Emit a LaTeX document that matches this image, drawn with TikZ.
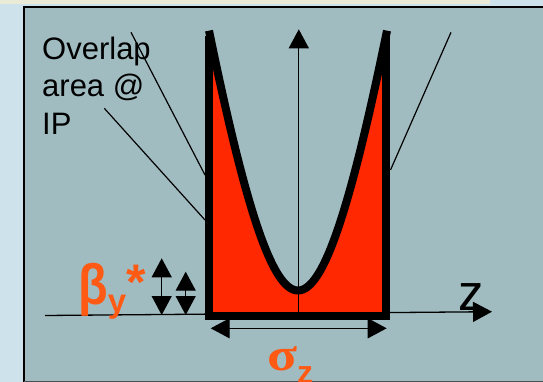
\documentclass[tikz,border=0pt]{standalone}
\usepackage{fontspec}
\setmainfont{Liberation Sans}
\newfontfamily\serifgreek{Liberation Serif}
\usetikzlibrary{arrows.meta}
\definecolor{outerbg}{RGB}{205,226,234}
\definecolor{stripcol}{RGB}{233,235,214}
\definecolor{panelcol}{RGB}{160,188,193}
\definecolor{hotred}{RGB}{255,40,0}
\definecolor{lblcol}{RGB}{255,90,20}
\definecolor{bordergray}{RGB}{70,80,85}
\tikzset{
  thinline/.style={line width=1.3pt},
  leader/.style={line width=1.2pt},
  heavy/.style={line width=8pt},
  txt/.style={inner sep=0pt, anchor=base west, font=\fontsize{31}{37}\selectfont},
  lbl/.style={inner sep=0pt, anchor=base west, text=lblcol}
}
\begin{document}
\begin{tikzpicture}[x=1pt,y=-1pt, >={Triangle[length=19pt,width=20pt]}]
\useasboundingbox (0,0) rectangle (543,382);
\clip (0,0) rectangle (543,382);
% backgrounds
\fill[outerbg] (0,0) rectangle (543,382);
\fill[stripcol] (0,0) rectangle (490,4);
\fill[panelcol] (24,7.5) rectangle (546,384);
\draw[line width=2pt] (24,384) -- (24,7.5) -- (546,7.5);
\draw[bordergray, line width=2pt] (24,381.5) -- (546,381.5);

% coordinates
\coordinate (zL) at (45,315.5);
\coordinate (zR) at (492,311.7);
\coordinate (O) at (298.8,315.7);
\coordinate (ytip) at (298.8,29.3);
\coordinate (BL) at (208.8,315.7);
\coordinate (BR) at (386.3,315.7);
\coordinate (TL) at (208.8,36);
\coordinate (TR) at (386.3,36);

% z axis (behind the box)
\draw[->, thinline] (zL) -- (zR);

% red overlap area
\fill[hotred] (BL) -- plot[domain=-89:89, samples=80] ({298+\x},{290.5-6.55*(sqrt(6400+\x*\x)-80)}) -- (BR) -- cycle;

% vertical axis
\draw[->, thinline] (O) -- (ytip);

% leader lines
\coordinate (l1a) at (131,32.3);
\coordinate (l1b) at (205,175);
\coordinate (l2a) at (104.3,108.3);
\coordinate (l2b) at (205,220);
\coordinate (l3a) at (451,32.3);
\coordinate (l3b) at (390.5,170);
\draw[leader] (l1a) -- (l1b);
\draw[leader] (l2a) -- (l2b);
\draw[leader] (l3a) -- (l3b);

% beta curve
\draw[heavy] plot[domain=-89:89, samples=80] ({298+\x},{290.5-6.55*(sqrt(6400+\x*\x)-80)});

% box
\draw[heavy, line join=miter] (TL) -- (BL) -- (BR) -- (TR);

% beta* arrows
\coordinate (b1t) at (161.7,258.3);
\coordinate (b1b) at (161.7,315);
\coordinate (b2t) at (185.7,271.7);
\coordinate (b2b) at (185.7,315);
\draw[<->, thinline] (b1b) -- (b1t);
\draw[<->, thinline] (b2b) -- (b2t);

% sigma_z arrow
\coordinate (sL) at (210.7,328.3);
\coordinate (sR) at (386.7,328.3);
\draw[<->, thinline] (sL) -- (sR);

% texts
\node[txt] (ov1) at (42,59.5) {Overlap};
\node[txt] (ov2) at (42,97) {area @};
\node[txt] (ov3) at (42,135) {IP};
\node[inner sep=0pt, anchor=base west, font=\fontsize{51}{51}\selectfont] (zlab) at (458.3,310) {z};
\node[lbl] (beta) at (78,304) {\bfseries\fontsize{57}{57}\selectfont \scalebox{0.85}[1]{β}\raisebox{-8.5pt}{\fontsize{33}{33}\selectfont y}\raisebox{5pt}{\fontsize{50}{50}\selectfont *}};
\node[lbl] (sigma) at (267,370) {\serifgreek\bfseries\fontsize{46}{46}\selectfont \scalebox{1.2}[1]{σ}\raisebox{-13.3pt}{\normalfont\bfseries\fontsize{32}{32}\selectfont z}};
\end{tikzpicture}
\end{document}
